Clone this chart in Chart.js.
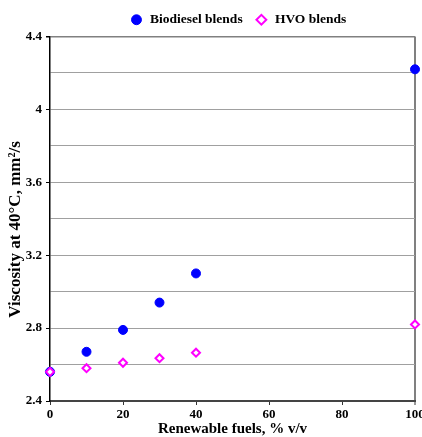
<!DOCTYPE html>
<html>
<head>
<meta charset="utf-8">
<script src="https://cdn.jsdelivr.net/npm/chart.js@4/dist/chart.umd.min.js"></script>
<style>
html, body { margin: 0; padding: 0; overflow: hidden; background: #fff; width: 422px; height: 437px; }
canvas { display: block; }
</style>
</head>
<body>
<canvas id="c" width="424" height="437"></canvas>
<script>
const renewableShare = [0, 10, 20, 30, 40, 100];
const biodieselViscosity = [2.56, 2.67, 2.79, 2.94, 3.10, 4.22];
const hvoViscosity = [2.56, 2.58, 2.61, 2.635, 2.665, 2.82];
const seriesNames = ['Biodiesel blends', 'HVO blends'];
const yTickLabels = ['2.4', '2.8', '3.2', '3.6', '4', '4.4'];
const xTickLabels = ['0', '20', '40', '60', '80', '100'];
const xAxisTitle = 'Renewable fuels, % v/v';
const yAxisTitle = 'Viscosity at 40°C, mm²/s';

const serif = "'Liberation Serif', 'Times New Roman', serif";

function findLabel(list, v) {
  const hit = list.find(l => Math.abs(parseFloat(l) - v) < 1e-6);
  return hit === undefined ? '' : hit;
}

const legendShift = {
  id: 'legendShift',
  afterLayout(chart) {
    if (chart.legend) {
      chart.legend.left += 26;
      chart.legend.right += 26;
    }
  }
};

new Chart(document.getElementById('c'), {
  type: 'scatter',
  data: {
    datasets: [
      {
        label: seriesNames[0],
        data: renewableShare.map((x, i) => ({ x: x, y: biodieselViscosity[i] })),
        pointStyle: 'circle',
        pointRadius: 4.5,
        backgroundColor: '#0000ff',
        borderColor: '#0000ff',
        borderWidth: 1,
        clip: false,
        order: 1
      },
      {
        label: seriesNames[1],
        data: renewableShare.map((x, i) => ({ x: x, y: hvoViscosity[i] })),
        pointStyle: 'rectRot',
        pointRadius: 4,
        backgroundColor: '#ffffff',
        borderColor: '#ff00ff',
        borderWidth: 2,
        clip: false,
        order: 0
      }
    ]
  },
  options: {
    responsive: false,
    animation: false,
    layout: { padding: { top: 1, left: 0, right: 0, bottom: 0 } },
    plugins: {
      tooltip: { enabled: false },
      legend: {
        position: 'top',
        align: 'center',
        labels: {
          usePointStyle: true,
          boxWidth: 14,
          boxHeight: 7,
          padding: 12,
          color: '#000',
          font: { family: serif, size: 13.5, weight: 'bold' },
          sort: (a, b) => a.datasetIndex - b.datasetIndex
        }
      }
    },
    scales: {
      x: {
        type: 'linear',
        position: 'bottom',
        min: 0,
        max: 100,
        afterFit: s => { s.height = 36; s.paddingRight = 9; s.paddingLeft = 0; },
        ticks: {
          stepSize: 20,
          autoSkip: false,
          maxRotation: 0,
          padding: 2.2,
          color: '#000',
          font: { family: serif, size: 13, weight: 'bold' },
          callback: v => findLabel(xTickLabels, v)
        },
        grid: {
          drawOnChartArea: true,
          tickLength: 4,
          color: ctx => (ctx.tick && ctx.tick.value === 100) ? '#808080' : 'rgba(0,0,0,0)',
          lineWidth: ctx => (ctx.tick && ctx.tick.value === 100) ? 2 : 1,
          tickColor: '#333',
          tickWidth: 1
        },
        border: { display: true, color: '#444', width: 2 },
        title: {
          display: true,
          text: xAxisTitle,
          color: '#000',
          padding: 0,
          font: { family: serif, size: 15, weight: 'bold', lineHeight: 1 }
        }
      },
      y: {
        type: 'linear',
        position: 'left',
        min: 2.4,
        max: 4.4,
        afterFit: s => { s.width = 50; },
        ticks: {
          stepSize: 0.2,
          autoSkip: false,
          padding: 4,
          color: '#000',
          font: { family: serif, size: 13, weight: 'bold' },
          callback: v => findLabel(yTickLabels, v)
        },
        grid: {
          tickLength: 4,
          color: ctx => {
            if (!ctx.tick) return '#a0a0a0';
            return Math.abs(ctx.tick.value - 4.4) < 1e-6 ? '#808080' : '#a0a0a0';
          },
          lineWidth: ctx => (ctx.tick && Math.abs(ctx.tick.value - 4.4) < 1e-6) ? 1.5 : 1,
          tickColor: ctx => (ctx.tick && findLabel(yTickLabels, ctx.tick.value) !== '') ? '#000' : 'rgba(0,0,0,0)'
        },
        border: { display: true, color: '#000', width: 1.5 },
        title: {
          display: true,
          text: yAxisTitle + '     ',
          color: '#000',
          padding: { top: 5, bottom: 0 },
          font: { family: serif, size: 17, weight: 'bold', lineHeight: 1.2 }
        }
      }
    }
  },
  plugins: [legendShift]
});
</script>
</body>
</html>
